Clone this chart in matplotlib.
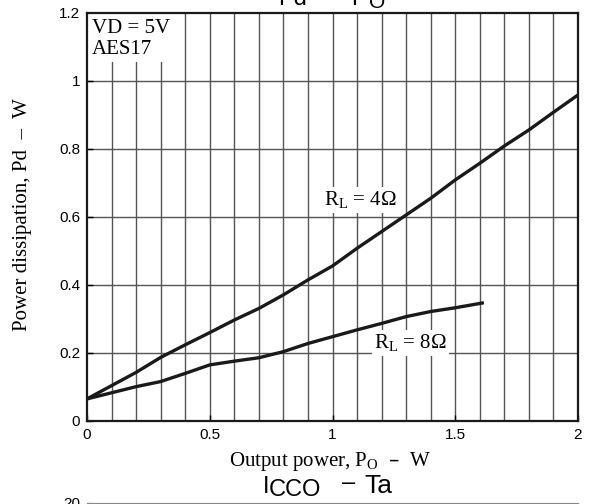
import numpy as np
import matplotlib.pyplot as plt
from matplotlib.patches import Rectangle

# Pd - PO curves
po_4ohm = [0.0, 0.1, 0.2, 0.3, 0.4, 0.5, 0.6, 0.7, 0.8, 0.9, 1.0, 1.1, 1.2, 1.3,
           1.4, 1.5, 1.6, 1.7, 1.8, 1.9, 2.0]
pd_4ohm = [0.065, 0.104, 0.143, 0.187, 0.224, 0.260, 0.297, 0.331, 0.371, 0.415,
           0.456, 0.508, 0.557, 0.606, 0.655, 0.709, 0.758, 0.809, 0.856, 0.908, 0.959]

po_8ohm = [0.0, 0.1, 0.2, 0.3, 0.4, 0.5, 0.6, 0.7, 0.8, 0.9, 1.0, 1.1, 1.2, 1.3,
           1.4, 1.5, 1.61]
pd_8ohm = [0.065, 0.083, 0.101, 0.116, 0.140, 0.165, 0.176, 0.186, 0.204, 0.228,
           0.248, 0.268, 0.287, 0.307, 0.322, 0.333, 0.347]

x_ticks = [0, 0.5, 1, 1.5, 2]
x_tick_labels = ['0', '0.5', '1', '1.5', '2']
y_ticks = [0, 0.2, 0.4, 0.6, 0.8, 1.0, 1.2]
y_tick_labels = ['0', '0.2', '0.4', '0.6', '0.8', '1', '1.2']

serif = 'Liberation Serif'
sans = 'Liberation Sans'
W, H = 589, 504


def fx(px):
    return px / W


def fy(py):
    return 1 - py / H


fig = plt.figure(figsize=(5.89, 5.04), dpi=100)
ax = fig.add_axes([fx(87), fy(421), 491/W, 408/H])

# grid
for x in np.arange(0.1, 2.0, 0.1):
    ax.axvline(x, color='#555555', lw=1.0, zorder=1)
for y in np.arange(0.2, 1.2, 0.2):
    ax.axhline(y, color='#555555', lw=1.0, zorder=1)

ax.plot(po_4ohm, pd_4ohm, color='#1a1a1a', lw=2.4, zorder=3)
ax.plot(po_8ohm, pd_8ohm, color='#1a1a1a', lw=2.4, zorder=3)

ax.set_xlim(0, 2)
ax.set_ylim(0, 1.2)
ax.set_xticks(x_ticks)
ax.set_xticklabels(x_tick_labels, family=sans, fontsize=11)
ax.set_yticks(y_ticks)
ax.set_yticklabels(y_tick_labels, family=sans, fontsize=11)
ax.tick_params(direction='in', length=4, width=1, pad=5)
for s in ax.spines.values():
    s.set_linewidth(1.6)
    s.set_color('#1a1a1a')
    s.set_zorder(4)

ax.set_xlabel('Output power, P$_\\mathregular{O}$  \u2013  W', family=serif,
              fontsize=15)
ax.xaxis.set_label_coords(0.495, -0.071)
ax.set_ylabel('Power dissipation, Pd  \u2013  W', family=serif, fontsize=15)
ax.yaxis.set_label_coords(-0.112, 0.505)

# condition note, with white patch hiding the grid behind it
ax.add_patch(Rectangle((0, 1.056), 0.358, 0.144, facecolor='white',
                       edgecolor='none', zorder=2))
ax.text(0.02, 1.141, 'VD = 5V', family=serif, fontsize=15, va='baseline',
        ha='left', zorder=5)
ax.text(0.02, 1.079, 'AES17', family=serif, fontsize=15, va='baseline',
        ha='left', zorder=5)

box = dict(facecolor='white', edgecolor='none', pad=1.5)
ax.text(0.965, 0.635, 'R$_\\mathregular{L}$ = 4\u03a9', family=serif, fontsize=15,
        ha='left', va='baseline', zorder=5, bbox=box)
ax.text(1.169, 0.215, 'R$_\\mathregular{L}$ = 8\u03a9', family=serif, fontsize=15,
        ha='left', va='baseline', zorder=5, bbox=box)

# title of this chart (cut at the top edge)
fig.text(fx(307), fy(5), 'Pd', family=sans, fontsize=17, ha='right', va='baseline')
fig.text(fx(329), fy(5), '\u2013', family=sans, fontsize=17, ha='center', va='baseline')
fig.text(fx(351), fy(5), 'P', family=sans, fontsize=17, ha='left', va='baseline')
fig.text(fx(369), fy(8), 'O', family=sans, fontsize=15, ha='left', va='baseline')

# title of the next chart (cut at the bottom edge)
fig.text(fx(263), fy(493), 'I', family=sans, fontsize=17, ha='left', va='baseline')
fig.text(fx(269), fy(496), 'CCO', family=sans, fontsize=17, ha='left', va='baseline')
fig.text(fx(349), fy(489), '\u2013', family=sans, fontsize=17, ha='center', va='baseline')
fig.text(fx(364), fy(493), 'Ta', family=sans, fontsize=19, ha='left', va='baseline')

ax2 = fig.add_axes([fx(87), fy(503) - 0.8, 491/W, 0.8])
ax2.set_xlim(0, 1)
ax2.set_ylim(0, 20)
ax2.set_yticks([20])
ax2.set_yticklabels(['20'], family=sans, fontsize=11)
ax2.set_xticks([])
ax2.tick_params(direction='in', length=4, pad=5)
for s in ax2.spines.values():
    s.set_color('#888888')

fig.savefig('out.png', dpi=100)
